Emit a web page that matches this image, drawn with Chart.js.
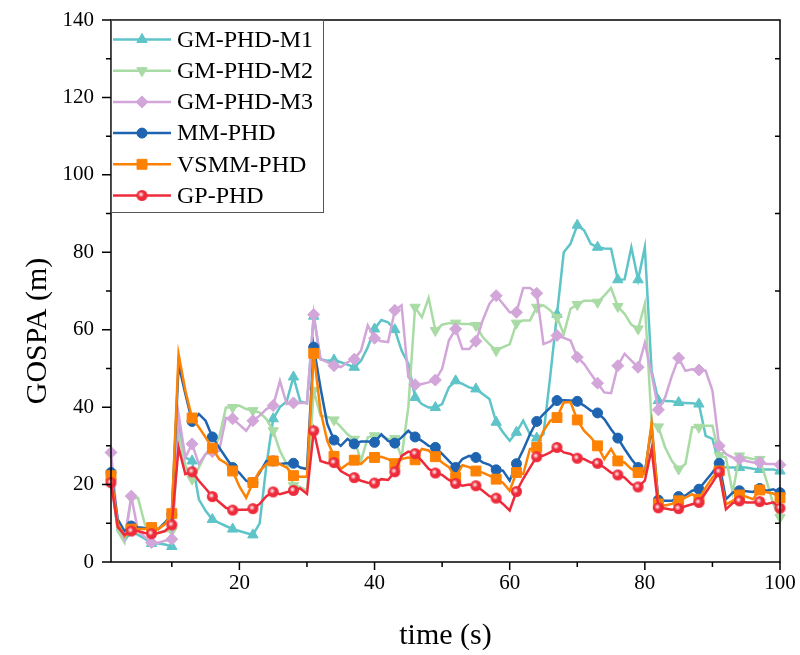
<!DOCTYPE html>
<html>
<head>
<meta charset="utf-8">
<script src="https://cdn.jsdelivr.net/npm/chart.js@4.4.0/dist/chart.umd.min.js"></script>
<style>
  html, body { margin: 0; padding: 0; background: #fff; }
  #box { width: 800px; height: 655px; }
</style>
</head>
<body>
<div id="box"><canvas id="grafico"></canvas></div>
<script>
const tempo = Array.from({ length: 100 }, (_, i) => i + 1);

const gmPhdM1 = [22, 8, 5.5, 8, 7, 6, 4.8, 4.8, 4.5, 4,
  35, 27, 26.1, 16.2, 13.2, 11, 10.1, 9.3, 8.5, 8,
  7.5, 7, 10, 25, 37, 40, 41.5, 47.8, 41.5, 41,
  63.5, 52.4, 52, 52.2, 51.6, 51, 50.3, 52, 55.5, 60.2,
  62.5, 61.9, 60, 54.6, 51.2, 42.5, 40.8, 39.9, 39.9, 40.8,
  45.1, 46.8, 46, 45.1, 44.7, 43.4, 42.1, 36.1, 33.5, 31.3,
  33.5, 36.5, 33, 32, 33, 48, 64, 80, 82.2, 87,
  85.7, 82.2, 81.3, 81, 80.9, 72.9, 73, 81.3, 72.9, 81.3,
  49.4, 41.7, 41.6, 41.5, 41.2, 41.1, 41, 40.8, 32.6, 31.8,
  25.3, 24.4, 24.4, 24.4, 24.4, 24.1, 23.9, 23.9, 23.9, 23.5];

const gmPhdM2 = [23, 8, 5, 16.5, 16.5, 9.8, 7, 7.5, 8, 8,
  33, 25, 21.4, 24.4, 27.9, 29.2, 32, 39.9, 39.9, 40.4,
  39.5, 39.1, 38.6, 36.9, 33.9, 28.7, 25.3, 19.7, 19.4, 18.4,
  44.3, 37.8, 37.5, 36.7, 34.9, 33, 31.7, 26.1, 32.2, 32.6,
  32.6, 31.8, 31.9, 27, 40, 65.8, 63.2, 68.2, 59.8, 61.3,
  61.7, 61.7, 61.5, 61.5, 61.1, 58.1, 56.3, 54.6, 55.5, 56.2,
  61.7, 62.4, 62.4, 65.8, 66.3, 65, 63.2, 58.9, 65.4, 66.5,
  67.5, 67.5, 67.1, 68.8, 70.8, 66, 64.1, 61.3, 60.2, 66.7,
  36, 34.9, 29.6, 26.1, 24, 25.3, 34.8, 34.8, 35.2, 35.2,
  27.5, 27, 17.9, 27.4, 27, 26.6, 26.5, 21, 15, 11.5];

const gmPhdM3 = [28.3, 10, 6, 17, 8, 6.5, 5, 5, 5.5, 5.9,
  38.2, 27, 30.5, 25.3, 27.9, 28.5, 28.7, 37.2, 37, 35.5,
  33.9, 36.5, 37.8, 39.5, 40.4, 46.8, 40.8, 41.1, 41.1, 41.1,
  63.9, 52.4, 51.6, 50.7, 50.3, 51.6, 52.4, 54.6, 61.1, 57.8,
  57, 56.8, 65, 66.3, 47.7, 45.8, 46, 46.4, 47, 49.9,
  57.2, 60.2, 55, 55, 57, 62.4, 66.7, 68.8, 66.7, 64.5,
  64.5, 70.8, 70.8, 69.4, 56.3, 57, 58.5, 57.9, 57.2, 52.9,
  51.2, 48.6, 46.2, 43.8, 43.6, 50.7, 53.8, 52, 50.3, 56.6,
  48.6, 39.3, 42.5, 48.1, 52.7, 49.4, 49.8, 49.6, 49.4, 44.3,
  30, 27.9, 27, 26.6, 26.1, 25.7, 25.7, 25.3, 25.3, 25.1];

const mmPhd = [23.1, 11, 8, 9.3, 9, 8.8, 8.7, 8.5, 10.2, 12.3,
  51, 43.5, 36.3, 38.2, 36.5, 32.3, 29.6, 27, 24.4, 23,
  21, 20.5, 23.1, 26.1, 26.1, 25.3, 25.5, 25.5, 24.4, 24,
  55.5, 45, 35.7, 31.5, 30, 31.8, 30.5, 31.1, 31.1, 30.9,
  33, 31.3, 30.7, 32.2, 33.9, 32.3, 31.3, 30, 29.6, 27.9,
  26.1, 24.4, 26.6, 27.4, 27, 25.7, 25.1, 23.8, 23.6, 21,
  25.4, 29, 33, 36.3, 38.2, 39.9, 41.7, 41.8, 41.7, 41.5,
  40.4, 39.1, 38.5, 36.9, 34.3, 32, 29.2, 26.6, 24.4, 23.1,
  35, 16, 15.8, 15.8, 16.9, 17.2, 18.4, 18.8, 21, 23.1,
  25.5, 16.2, 17.9, 18.4, 18.3, 18.1, 19, 18.4, 18.8, 17.9];

const vsmmPhd = [22.3, 10, 6.7, 8.5, 8.5, 8.5, 8.9, 8.5, 9.8, 12.5,
  53.7, 44.3, 37.2, 34.8, 32.2, 29.4, 26.6, 25.5, 23.5, 19.5,
  16.6, 20.5, 23.5, 25.3, 26.1, 25.3, 24.4, 22.3, 22, 22,
  53.9, 39, 31.3, 27.3, 24, 25.3, 26.3, 25.3, 27, 27,
  27.2, 26.6, 25.4, 26.6, 27, 26.4, 29.2, 28.8, 27.2, 25.7,
  24.5, 21.8, 25, 24.5, 23.5, 23.1, 22.3, 21.4, 20.5, 18.4,
  23.1, 22.7, 29.2, 29.6, 33.9, 36.5, 37.3, 41.2, 41.3, 36.7,
  33.9, 32.2, 30, 26.6, 29.2, 26.1, 25.7, 24, 23.1, 22.7,
  36, 15, 14.6, 15, 15.8, 16.6, 17.5, 16.2, 19.2, 21.8,
  23.5, 14.9, 15.8, 17.3, 16.9, 16.2, 18.6, 18, 17.7, 16.6];

const gpPhd = [20.5, 9, 7, 8, 8, 7.5, 7.3, 7.5, 8, 9.6,
  29.6, 22.7, 23.3, 21, 19, 16.9, 15.5, 14, 13.4, 13.5,
  13.5, 13.8, 15, 17, 18.1, 17.5, 18, 18.5, 19, 17.6,
  33.9, 26.1, 25.5, 25.7, 23.5, 22.5, 21.8, 21, 20.5, 20.4,
  21.4, 21.2, 23.3, 27.4, 28.5, 28, 26.1, 24.1, 23, 22.5,
  21.2, 20.3, 19.7, 20, 19.7, 18.4, 17, 16.5, 15, 13.3,
  18.2, 21.5, 24.4, 27.2, 27.5, 28.3, 29.6, 28.3, 27.9, 26.8,
  26.6, 25.7, 25.5, 24.4, 23.1, 22.5, 21.8, 20.1, 19.4, 21,
  29.2, 14, 13.8, 13.5, 13.8, 14.4, 14.9, 15.4, 17.9, 20.5,
  23.3, 13.6, 15.2, 15.8, 15.4, 15.4, 15.6, 15, 15.4, 13.9];

const ticksX = [20, 40, 60, 80, 100];
const fonte = '"Liberation Serif", "Times New Roman", serif';

function marcadorGP() {
  const c = document.createElement('canvas');
  c.width = 13; c.height = 13;
  const g = c.getContext('2d');
  g.fillStyle = '#ee2b3b';
  g.beginPath(); g.arc(6.5, 6.5, 5.5, 0, Math.PI * 2); g.fill();
  const rg = g.createRadialGradient(5.5, 5.5, 0, 5.5, 5.5, 3);
  rg.addColorStop(0, '#ffffff');
  rg.addColorStop(1, 'rgba(255,255,255,0)');
  g.fillStyle = rg;
  g.beginPath(); g.arc(5.5, 5.5, 3, 0, Math.PI * 2); g.fill();
  return c;
}

const series = [
  { nome: 'GM-PHD-M1', dados: gmPhdM1, cor: '#5ec4c8', estilo: 'triangle', raio: 6, rot: 0, ordem: 6 },
  { nome: 'GM-PHD-M2', dados: gmPhdM2, cor: '#a9dba5', estilo: 'triangle', raio: 6, rot: 180, ordem: 5 },
  { nome: 'GM-PHD-M3', dados: gmPhdM3, cor: '#d3a6da', estilo: 'rectRot', raio: 6, rot: 0, ordem: 4 },
  { nome: 'MM-PHD', dados: mmPhd, cor: '#1e64b0', estilo: 'circle', raio: 5, rot: 0, ordem: 3 },
  { nome: 'VSMM-PHD', dados: vsmmPhd, cor: '#fd8204', estilo: 'rect', raio: 7, rot: 0, ordem: 2 },
  { nome: 'GP-PHD', dados: gpPhd, cor: '#ee2b3b', estilo: marcadorGP(), raio: 5, rot: 0, ordem: 1 }
];

const molduraEixos = {
  id: 'molduraEixos',
  afterDraw(chart) {
    const ctx = chart.ctx;
    const { left, right, top, bottom } = chart.chartArea;
    const sx = chart.scales.x, sy = chart.scales.y;
    ctx.save();
    ctx.strokeStyle = '#000';
    ctx.lineWidth = 1.5;
    ctx.strokeRect(left, top, right - left, bottom - top);

    ctx.beginPath();
    for (let v = 10; v <= 100; v += 10) {
      const px = sx.getPixelForValue(v);
      ctx.moveTo(px, bottom);
      ctx.lineTo(px, bottom + (v % 20 === 0 ? 8 : 5));
    }
    for (let v = 0; v <= 140; v += 10) {
      const py = sy.getPixelForValue(v);
      ctx.moveTo(left, py);
      ctx.lineTo(left - (v % 20 === 0 ? 9 : 5), py);
      if (v % 20 !== 0) {
        ctx.moveTo(right, py);
        ctx.lineTo(right - 5, py);
      }
    }
    ctx.stroke();

    // legenda
    const lx = left, ly = top, lw = 212, lh = 192;
    ctx.fillStyle = '#fff';
    ctx.fillRect(lx + 1, ly + 1, lw - 1, lh - 1);
    ctx.strokeStyle = '#555';
    ctx.lineWidth = 1;
    ctx.strokeRect(lx + 0.5, ly + 0.5, lw, lh);
    ctx.font = '24px ' + fonte;
    ctx.textBaseline = 'middle';
    ctx.textAlign = 'left';
    series.forEach((s, i) => {
      const y = ly + 19.5 + i * 31.2;
      ctx.strokeStyle = s.cor;
      ctx.lineWidth = 2.5;
      ctx.beginPath();
      ctx.moveTo(lx + 2, y);
      ctx.lineTo(lx + 60, y);
      ctx.stroke();
      ctx.fillStyle = s.cor;
      ctx.lineWidth = 1;
      Chart.helpers.drawPoint(ctx, { pointStyle: s.estilo, radius: s.raio, rotation: s.rot, borderWidth: 1 }, lx + 31, y);
      ctx.fillStyle = '#000';
      ctx.fillText(s.nome, lx + 66, y + 1);
    });

    // títulos dos eixos
    ctx.fillStyle = '#000';
    ctx.font = '30px ' + fonte;
    ctx.textAlign = 'center';
    ctx.textBaseline = 'middle';
    ctx.fillText('time (s)', (left + right) / 2, 636);
    ctx.translate(38, 331);
    ctx.rotate(-Math.PI / 2);
    ctx.fillText('GOSPA (m)', 0, 0);
    ctx.restore();
  }
};

const ctx = document.getElementById('grafico').getContext('2d');
new Chart(ctx, {
  type: 'line',
  data: {
    datasets: series.map(s => ({
      label: s.nome,
      data: s.dados.map((v, i) => ({ x: tempo[i], y: v })),
      borderColor: s.cor,
      backgroundColor: s.cor,
      borderWidth: 2.5,
      pointStyle: s.estilo,
      pointRotation: s.rot,
      pointRadius: c => (c.dataIndex % 3 === 0 ? s.raio : 0),
      pointBorderWidth: 1,
      pointHoverRadius: 0,
      tension: 0,
      order: s.ordem,
      clip: 8
    }))
  },
  options: {
    responsive: true,
    maintainAspectRatio: false,
    animation: false,
    events: [],
    layout: { padding: { top: 20, right: 20, left: 0, bottom: 0 } },
    plugins: { legend: { display: false }, tooltip: { enabled: false } },
    scales: {
      x: {
        type: 'linear',
        min: 1,
        max: 100,
        afterBuildTicks: s => { s.ticks = ticksX.map(v => ({ value: v })); },
        afterFit: s => { s.height = 93; s.paddingLeft = 0; s.paddingRight = 0; },
        grid: { display: false, drawTicks: false },
        border: { display: false },
        ticks: { font: { family: fonte, size: 21 }, color: '#000', padding: 9, maxRotation: 0 }
      },
      y: {
        min: 0,
        max: 140,
        afterFit: s => { s.width = 111; s.paddingTop = 0; s.paddingBottom = 0; },
        grid: { display: false, drawTicks: false },
        border: { display: false },
        ticks: { stepSize: 20, font: { family: fonte, size: 21 }, color: '#000', padding: 17 }
      }
    }
  },
  plugins: [molduraEixos]
});
</script>
</body>
</html>
